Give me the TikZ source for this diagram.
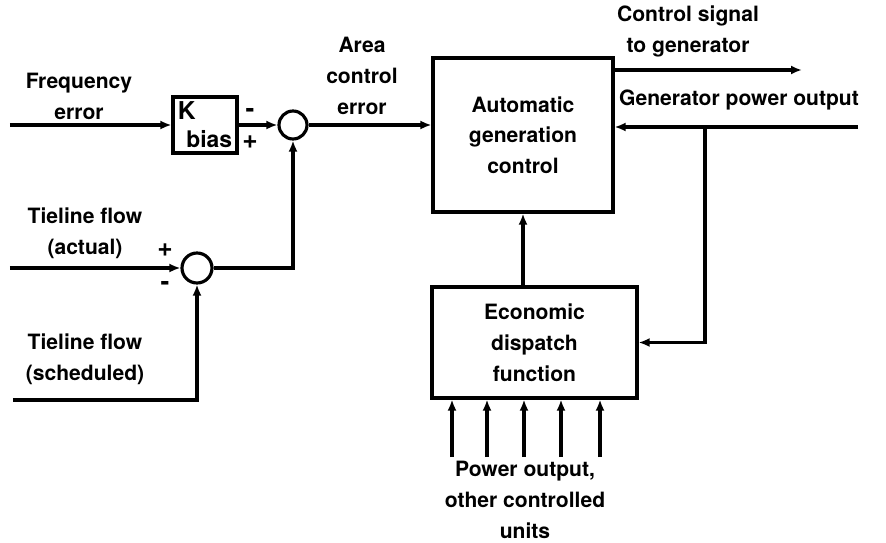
\documentclass[tikz,border=0pt]{standalone}
\usepackage{fontspec}
\setmainfont{TeX Gyre Heros}
\usetikzlibrary{arrows.meta,positioning,calc}

\begin{document}
\begin{tikzpicture}[font=\fontsize{12}{17.5}\selectfont\bfseries,
box/.style={draw,line width=1.8pt,align=center,inner sep=0pt},
sum/.style={draw,circle,line width=1.8pt,minimum size=#1,inner sep=0pt},
arrow/.style={-{Latex[length=2.2mm,width=1.8mm]},line width=1.8pt},
lbl/.style={align=center,inner sep=0pt},
sign/.style={inner sep=0pt,font=\fontsize{15}{15}\selectfont\bfseries}]
\useasboundingbox (0,0) rectangle (17.72,10.84);
% blocks
\node[box,minimum width=1.28cm,minimum height=1.12cm,
 label={[anchor=north west,inner sep=3.5pt,font=\fontsize{14}{14}\selectfont\bfseries]north west:K},
 label={[anchor=south east,inner sep=3.5pt,font=\fontsize{13}{13}\selectfont\bfseries]south east:bias}] (kbias) at (4.10,8.34) {};
\node[sum=5.6mm] (sum1) at (5.86,8.34) {};
\node[sum=6mm] (sum2) at (3.94,5.48) {};
\node[box,minimum width=3.6cm,minimum height=3.08cm] (agc) at (10.46,8.14) {Automatic\\generation\\control};
\node[box,minimum width=4.1cm,minimum height=2.22cm] (edf) at (10.69,3.99) {Economic\\dispatch\\function};
% signs
\node[sign] (s1minus) at (5.0,8.58) {-};
\node[sign] (s1plus) at (5.0,8.0) {+};
\node[sign] (s2plus) at (3.3,5.84) {+};
\node[sign] (s2minus) at (3.3,5.12) {-};
% labels
\node[lbl] (freqlbl) at (1.58,8.91) {Frequency\\error};
\node[lbl] (actlbl) at (1.7,6.17) {Tieline flow\\(actual)};
\node[lbl] (schlbl) at (1.7,3.66) {Tieline flow\\(scheduled)};
\node[lbl] (acelbl) at (7.24,9.32) {Area\\control\\error};
\node[lbl] (ctrllbl) at (13.76,10.21) {Control signal\\to generator};
\node[lbl] (genlbl) at (14.78,8.84) {Generator power output};
\node[lbl] (unitlbl) at (10.5,0.84) {Power output,\\other controlled\\units};
% free ends
\coordinate (freqin) at (0.2,8.34);
\coordinate (actin) at (0.2,5.48);
\coordinate (schedin) at (0.26,2.84);
\coordinate (ctrlout) at (16.04,9.44);
\coordinate (genin) at (17.16,8.3);
\coordinate (tap) at (14.1,8.3);
% connectors
\draw[arrow] (freqin) -- (kbias);
\draw[arrow] (kbias) -- (sum1);
\draw[arrow] (actin) -- (sum2);
\draw[arrow] (schedin) -| (sum2.south);
\draw[arrow] (sum2.east) -| (sum1.south);
\draw[arrow] (sum1.east) -- (sum1.east -| agc.west);
\draw[arrow] (agc.east |- ctrlout) -- (ctrlout);
\draw[arrow] (genin) -- (genin -| agc.east);
\draw[arrow] (tap) |- (edf.east);
\draw[arrow] (agc.south |- edf.north) -- (agc.south);
\foreach \x [count=\i] in {9.04,9.74,10.48,11.22,12.0}{
 \coordinate (unit\i) at (\x,1.7);
 \draw[arrow] (unit\i) -- (unit\i |- edf.south);
}
\end{tikzpicture}
\end{document}
